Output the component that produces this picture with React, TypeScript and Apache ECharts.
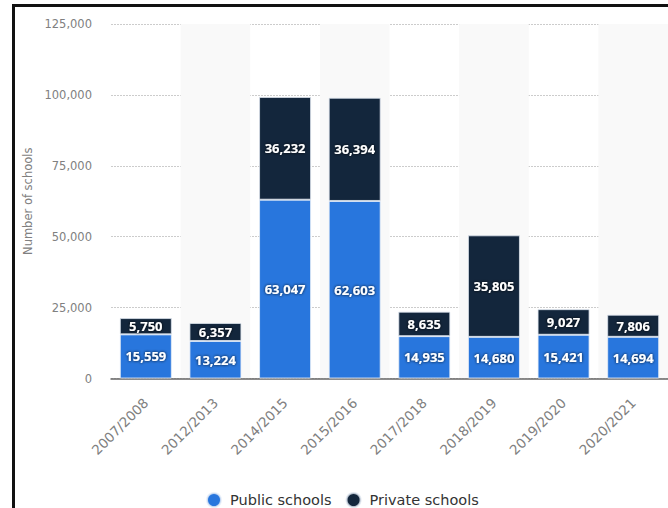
import React, { useEffect, useRef } from "react";
import * as echarts from "echarts";

const categories = ["2007/2008", "2012/2013", "2014/2015", "2015/2016", "2017/2018", "2018/2019", "2019/2020", "2020/2021"];
const publicSchools = [15559, 13224, 63047, 62603, 14935, 14680, 15421, 14694];
const privateSchools = [5750, 6357, 36232, 36394, 8635, 35805, 9027, 7806];
const yTicks = { min: 0, max: 125000, interval: 25000 };

const FONT = "'Open Sans', 'Noto Sans', sans-serif";
const AXFONT = "'DejaVu Sans', sans-serif";

export default function App() {
  const ref = useRef<HTMLDivElement>(null);
  useEffect(() => {
    if (!ref.current) return;
    const chart = echarts.init(ref.current, undefined, { renderer: "svg" });
    const label = {
      show: true,
      position: "inside",
      color: "#fff",
      fontFamily: FONT,
      fontSize: 13,
      fontWeight: "bold",
      textShadowColor: "rgba(0,0,0,0.9)",
      textShadowBlur: 3,
      formatter: (p: any) => Number(p.value).toLocaleString("en-US"),
    };
    chart.setOption({
      animation: false,
      textStyle: { fontFamily: AXFONT },
      graphic: [
        { type: "line", shape: { x1: 13.5, y1: 4, x2: 13.5, y2: 508 }, style: { stroke: "#111", lineWidth: 3 } },
        { type: "line", shape: { x1: 12, y1: 5.5, x2: 668, y2: 5.5 }, style: { stroke: "#111", lineWidth: 3 } },
      ],
      grid: { left: 111, top: 24, width: 562, height: 354.5 },
      legend: {
        left: 206,
        top: 492,
        padding: 0,
        icon: "circle",
        itemWidth: 22,
        itemHeight: 14,
        itemGap: 14,
        textStyle: { fontSize: 14.5, color: "#333", fontFamily: AXFONT },
        data: ["Public schools", "Private schools"],
      },
      xAxis: {
        type: "category",
        data: categories,
        axisLine: { show: true, lineStyle: { color: "#666", width: 1.5 } },
        axisTick: { show: false },
        axisLabel: { rotate: 45, color: "#808080", fontSize: 13.5, margin: 22, fontFamily: AXFONT },
        splitArea: { show: true, areaStyle: { color: ["rgba(255,255,255,0)", "#f9f9f9"] } },
      },
      yAxis: {
        type: "value",
        min: yTicks.min,
        max: yTicks.max,
        interval: yTicks.interval,
        name: "Number of schools",
        nameLocation: "middle",
        nameGap: 77,
        nameTextStyle: { color: "#808080", fontSize: 11.5, fontFamily: AXFONT },
        axisLine: { show: false },
        axisTick: { show: false },
        axisLabel: {
          color: "#808080",
          fontSize: 11.5,
          margin: 19,
          fontFamily: AXFONT,
          formatter: (v: number) => v.toLocaleString("en-US"),
        },
        splitLine: { show: true, lineStyle: { color: "#ccc", type: [2, 1], width: 1 } },
      },
      series: [
        {
          name: "Public schools",
          type: "bar",
          stack: "total",
          barWidth: 52,
          data: publicSchools,
          itemStyle: { color: "#2876dd", borderColor: "rgba(230,238,248,0.8)", borderWidth: 1 },
          label,
        },
        {
          name: "Private schools",
          type: "bar",
          stack: "total",
          barWidth: 52,
          data: privateSchools,
          itemStyle: { color: "#13263c", borderColor: "rgba(220,228,238,0.8)", borderWidth: 1 },
          label,
        },
      ],
    });
    return () => chart.dispose();
  }, []);
  return (
    <div
      ref={ref}
      style={{ position: "absolute", left: 0, top: 0, width: 668, height: 508, background: "#fff" }}
    />
  );
}
